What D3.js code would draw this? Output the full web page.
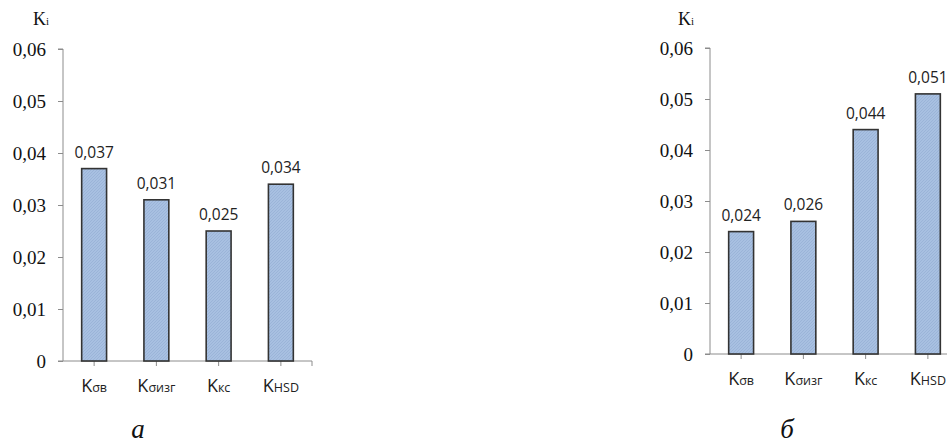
<!DOCTYPE html>
<html>
<head>
<meta charset="utf-8">
<script src="https://cdn.jsdelivr.net/npm/d3@7"></script>
<style>
  html, body { margin: 0; padding: 0; background: #fff; }
  svg { display: block; }
  .serif { font-family: "Liberation Serif", "Times New Roman", serif; }
  .sans { font-family: "Open Sans", sans-serif; }
</style>
</head>
<body>
<svg id="chart" width="947" height="445"></svg>
<script>
// ---- data ----
const categories = ["σв", "σизг", "кс", "HSD"];
const valuesA = [0.037, 0.031, 0.025, 0.034];
const valuesB = [0.024, 0.026, 0.044, 0.051];
const yTicks = [0, 0.01, 0.02, 0.03, 0.04, 0.05, 0.06];
const panelCaptions = ["a", "б"];

const svg = d3.select("#chart");

// pattern for bar fill
const defs = svg.append("defs");
const pat = defs.append("pattern")
  .attr("id", "hatch").attr("patternUnits", "userSpaceOnUse")
  .attr("width", 3).attr("height", 3);
pat.append("rect").attr("width", 3).attr("height", 3).attr("fill", "#a8c0e1");
pat.append("path").attr("d", "M0,3 L3,0").attr("stroke", "#98b1d6").attr("stroke-width", 0.8);

const fmt = v => d3.format(".3f")(v).replace(".", ",");
const fmtTick = v => v === 0 ? "0" : d3.format(".2f")(v).replace(".", ",");

const panels = [
  { values: valuesA, x0: 63, x1: 312, y0: 361, y1: 49, caption: panelCaptions[0], capX: 138, capY: 438, kiX: 33, catDy: 31 },
  { values: valuesB, x0: 710, x1: 959, y0: 354, y1: 48, caption: panelCaptions[1], capX: 787, capY: 438, kiX: 678, catDy: 31 }
];

panels.forEach(p => {
  const g = svg.append("g");
  const y = d3.scaleLinear().domain([0, 0.06]).range([p.y0, p.y1]);
  const x = d3.scaleBand().domain(categories).range([p.x0, p.x1]).paddingInner(0.6).paddingOuter(0.3);

  // y axis
  const yAxis = d3.axisLeft(y).tickValues(yTicks).tickFormat(fmtTick).tickSize(5).tickPadding(12);
  const ya = g.append("g").attr("transform", `translate(${p.x0},0)`).call(yAxis);
  ya.attr("font-family", null).attr("font-size", null);
  ya.select(".domain").attr("stroke", "#8c8c8c").attr("d", `M-5,${y(0.06)}H0V${p.y0}`);
  ya.selectAll(".tick line").attr("stroke", "#8c8c8c");
  ya.selectAll(".tick text")
    .attr("class", "serif")
    .style("font-family", '"Liberation Serif", "Times New Roman", serif')
    .style("font-size", "19px").attr("fill", "#111");

  // x axis
  const xa = g.append("g").attr("transform", `translate(0,${p.y0})`);
  xa.append("line").attr("x1", p.x0 - 5).attr("x2", p.x1).attr("stroke", "#8c8c8c");
  xa.selectAll(".xt").data(categories).enter().append("line")
    .attr("x1", d => x(d) + x.bandwidth() / 2).attr("x2", d => x(d) + x.bandwidth() / 2)
    .attr("y1", 0).attr("y2", 5).attr("stroke", "#8c8c8c");
  xa.append("line").attr("x1", p.x1).attr("x2", p.x1).attr("y1", 0).attr("y2", 5).attr("stroke", "#8c8c8c");

  // bars
  g.selectAll(".bar").data(p.values).enter().append("rect")
    .attr("x", (d, i) => x(categories[i]))
    .attr("y", d => y(d))
    .attr("width", x.bandwidth())
    .attr("height", d => y(0) - y(d))
    .attr("fill", "url(#hatch)")
    .attr("stroke", "#333").attr("stroke-width", 1.6);

  // value labels
  g.selectAll(".val").data(p.values).enter().append("text")
    .attr("class", "sans")
    .attr("x", (d, i) => x(categories[i]) + x.bandwidth() / 2)
    .attr("y", d => y(d) - 11)
    .attr("text-anchor", "middle")
    .style("font-size", "15.5px").attr("fill", "#222")
    .text(d => fmt(d));

  // category labels
  const cl = g.selectAll(".cat").data(categories).enter().append("text")
    .attr("class", "sans")
    .attr("x", d => x(d) + x.bandwidth() / 2)
    .attr("y", p.y0 + p.catDy)
    .attr("text-anchor", "middle")
    .attr("fill", "#222");
  cl.append("tspan").style("font-size", "18px").text("K");
  cl.append("tspan").style("font-size", "12.5px").text(d => d);

  // Ki label
  const ki = g.append("text").attr("class", "serif").attr("x", p.kiX).attr("y", 25).attr("fill", "#111");
  ki.append("tspan").style("font-size", "18px").text("K");
  ki.append("tspan").style("font-size", "11px").text("i");

  // caption
  g.append("text").attr("class", "serif").attr("x", p.capX).attr("y", p.capY).attr("text-anchor", "middle")
    .style("font-style", "italic").style("font-size", "27px").attr("fill", "#111")
    .text(p.caption);
});
</script>
</body>
</html>
